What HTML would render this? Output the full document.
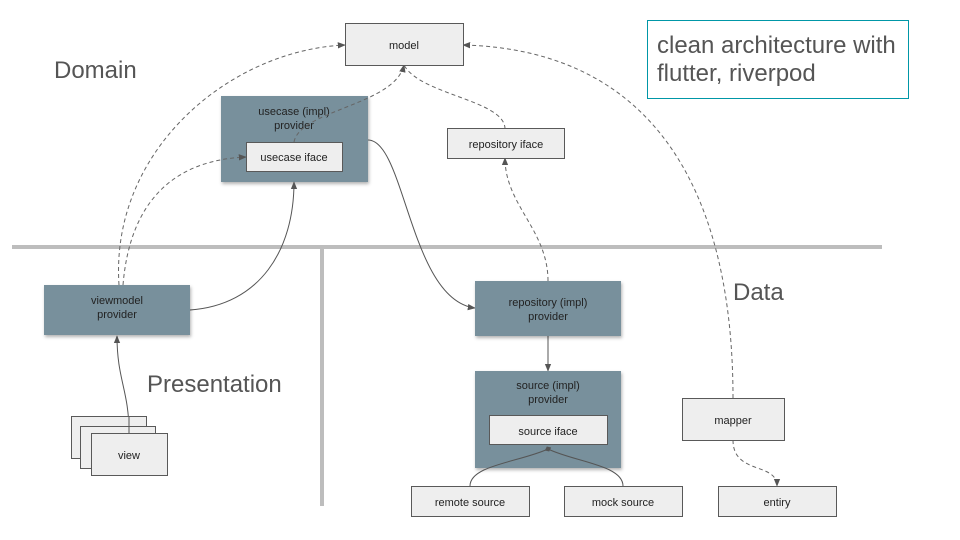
<!DOCTYPE html>
<html><head><meta charset="utf-8"><style>
html,body{margin:0;padding:0;background:#fff;}
svg{display:block;}
text{font-family:"Liberation Sans",Arial,sans-serif;fill:#222;}
.b{fill:#eeeeee;stroke:#595959;stroke-width:1;}
.p{fill:#78909c;}
.d{fill:none;stroke:#666;stroke-width:1;stroke-dasharray:4,3;}
.s{fill:none;stroke:#555;stroke-width:1;}
.t{font-size:11px;text-anchor:middle;}
.big{font-size:24px;fill:#555;}
</style></head><body>
<svg width="960" height="540" viewBox="0 0 960 540" xmlns="http://www.w3.org/2000/svg">
<defs>
<marker id="a" viewBox="0 0 10 10" refX="9" refY="5" markerWidth="8" markerHeight="8" orient="auto"><path d="M0,1 L10,5 L0,9 z" fill="#555"/></marker>
<marker id="dm" viewBox="0 0 10 10" refX="5" refY="5" markerWidth="7" markerHeight="7" orient="auto"><path d="M0,5 L5,1 L10,5 L5,9 z" fill="#555"/></marker>
<filter id="sh" x="-10%" y="-10%" width="125%" height="130%"><feDropShadow dx="1" dy="2" stdDeviation="1.5" flood-color="#000" flood-opacity="0.3"/></filter>
</defs>

<line x1="12" y1="247" x2="882" y2="247" stroke="#bdbdbd" stroke-width="4"/>
<line x1="322" y1="249" x2="322" y2="506" stroke="#bdbdbd" stroke-width="4"/>

<text x="54" y="78" class="big">Domain</text>
<text x="733" y="300" class="big">Data</text>
<text x="147" y="392" class="big">Presentation</text>

<rect x="647.5" y="20.5" width="261" height="78" fill="#fff" stroke="#0097a7" stroke-width="1"/>
<text x="657" y="53" class="big">clean architecture with</text>
<text x="657" y="81" class="big">flutter, riverpod</text>

<rect x="221" y="96" width="147" height="86" class="p" filter="url(#sh)"/>
<text x="294" y="115" class="t">usecase (impl)</text>
<text x="294" y="129" class="t">provider</text>

<path d="M119,285 C110,150 230,50 345,45" class="d" marker-end="url(#a)"/>
<path d="M123,285 C130,200 175,160 246,157" class="d" marker-end="url(#a)"/>
<path d="M294,142 C300,110 395,105 404,65" class="d" marker-end="url(#a)"/>
<path d="M505,129 C505,100 420,95 404,65" class="d"/>
<path d="M548,281 C548,230 505,205 505,158" class="d" marker-end="url(#a)"/>
<path d="M733,398 C733,200 660,50 463,45" class="d" marker-end="url(#a)"/>
<path d="M733,440 C733,475 777,462 777,486" class="d" marker-end="url(#a)"/>

<rect x="246.5" y="142.5" width="96" height="29" class="b"/>
<text x="294" y="161" class="t">usecase iface</text>

<rect x="345.5" y="23.5" width="118" height="42" class="b"/>
<text x="404" y="49" class="t">model</text>

<rect x="447.5" y="128.5" width="117" height="30" class="b"/>
<text x="506" y="148" class="t">repository iface</text>

<path d="M190,310 C260,305 294,250 294,182" class="s" marker-end="url(#a)"/>
<path d="M368,140 C405,140 410,300 475,308" class="s" marker-end="url(#a)"/>
<path d="M129,433 C129,390 117,380 117,336" class="s" marker-end="url(#a)"/>
<path d="M548,336 L548,371" class="s" marker-end="url(#a)"/>

<rect x="44" y="285" width="146" height="50" class="p" filter="url(#sh)"/>
<text x="117" y="304" class="t">viewmodel</text>
<text x="117" y="318" class="t">provider</text>

<rect x="71.5" y="416.5" width="75" height="42" class="b"/>
<rect x="80.5" y="426.5" width="75" height="42" class="b"/>
<rect x="91.5" y="433.5" width="76" height="42" class="b"/>
<line x1="129" y1="416" x2="129" y2="433" stroke="#555"/>
<text x="129" y="459" class="t">view</text>

<rect x="475" y="281" width="146" height="55" class="p" filter="url(#sh)"/>
<text x="548" y="306" class="t">repository (impl)</text>
<text x="548" y="320" class="t">provider</text>

<rect x="475" y="371" width="146" height="97" class="p" filter="url(#sh)"/>
<text x="548" y="389" class="t">source (impl)</text>
<text x="548" y="403" class="t">provider</text>
<rect x="489.5" y="415.5" width="118" height="29" class="b"/>
<text x="548" y="435" class="t">source iface</text>

<path d="M470,486 C470,465 520,462 548,449" class="s" marker-end="url(#dm)"/>
<path d="M623,486 C623,465 575,462 548,449" class="s"/>

<rect x="411.5" y="486.5" width="118" height="30" class="b"/>
<text x="470" y="506" class="t">remote source</text>
<rect x="564.5" y="486.5" width="118" height="30" class="b"/>
<text x="623" y="506" class="t">mock source</text>

<rect x="682.5" y="398.5" width="102" height="42" class="b"/>
<text x="733" y="424" class="t">mapper</text>
<rect x="718.5" y="486.5" width="118" height="30" class="b"/>
<text x="777" y="506" class="t">entiry</text>
</svg>
</body></html>
